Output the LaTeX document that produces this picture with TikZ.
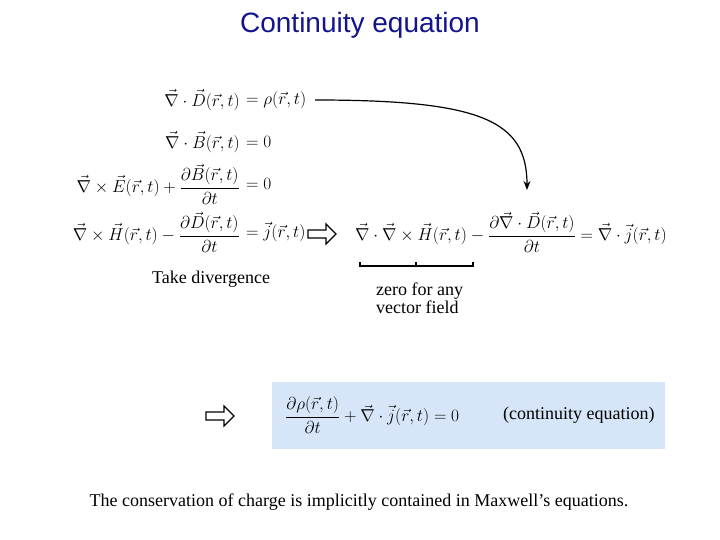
\documentclass[tikz,border=0pt]{standalone}
\usepackage{amsmath}
\usepackage{fontspec}
\newfontfamily\titlefont{Liberation Sans}
\newfontfamily\serif{Liberation Serif}
\usetikzlibrary{arrows.meta}
\tikzset{eq/.style={inner sep=0pt,font=\fontsize{16.5}{19}\selectfont},
 txt/.style={inner sep=0pt,font=\serif\fontsize{18}{21}\selectfont,align=left},
 hollow/.pic={\draw[line width=1.2pt,fill=white] (-14,-4)--(4,-4)--(4,-10)--(14,0)--(4,10)--(4,4)--(-14,4)--cycle;}}
\begin{document}
\begin{tikzpicture}[x=1pt,y=-1pt]
\useasboundingbox (0,0) rectangle (720,540);
\node[inner sep=0pt,font=\titlefont\fontsize{28}{32}\selectfont,text={rgb,255:red,20;green,20;blue,140}] (title) at (360,25) {Continuity equation};
\node[eq,anchor=east] (m1l) at (240,100) {$\vec\nabla\cdot\vec D(\vec r,t)$};
\node[eq,anchor=west] (m1r) at (246,100) {$=\rho(\vec r,t)$};
\node[eq,anchor=east] (m2l) at (240,142) {$\vec\nabla\cdot\vec B(\vec r,t)$};
\node[eq,anchor=west] (m2r) at (246,142) {$=0$};
\node[eq,anchor=east] (m3l) at (240,184) {$\vec\nabla\times\vec E(\vec r,t)+\dfrac{\partial\vec B(\vec r,t)}{\partial t}$};
\node[eq,anchor=west] (m3r) at (246,184) {$=0$};
\node[eq,anchor=east] (m4l) at (240,232) {$\vec\nabla\times\vec H(\vec r,t)-\dfrac{\partial\vec D(\vec r,t)}{\partial t}$};
\node[eq,anchor=west] (m4r) at (246,232) {$=\vec j(\vec r,t)$};
\pic at (322,234) {hollow};
\node[eq,anchor=west] (div) at (355,232) {$\vec\nabla\cdot\vec\nabla\times\vec H(\vec r,t)-\dfrac{\partial\vec\nabla\cdot\vec D(\vec r,t)}{\partial t}=\vec\nabla\cdot\vec j(\vec r,t)$};
\coordinate (a1) at (315,100);
\coordinate (a2) at (527,190);
\draw[line width=1.2pt,-{Stealth[length=9pt,width=7pt]}] (a1) .. controls (480,100) and (527,120) .. (a2);
\node[txt,anchor=west] (td) at (152,279) {Take divergence};
\draw[line width=1.2pt] (360,262)--(360,266)--(473,266)--(473,262);
\draw[line width=1.2pt] (416,266)--(416,262);
\node[txt,anchor=north west] (zero) at (376,283) {zero for any\\[-3pt]vector field};
\pic at (220,416) {hollow};
\fill[fill={rgb,255:red,214;green,230;blue,248}] (272,382) rectangle (665,449);
\node[eq,anchor=west] (cont) at (285,415) {$\dfrac{\partial\rho(\vec r,t)}{\partial t}+\vec\nabla\cdot\vec j(\vec r,t)=0$};
\node[txt,anchor=west] (ce) at (503,415) {(continuity equation)};
\node[txt] (bottom) at (359,502) {The conservation of charge is implicitly contained in Maxwell’s equations.};
\end{tikzpicture}
\end{document}
